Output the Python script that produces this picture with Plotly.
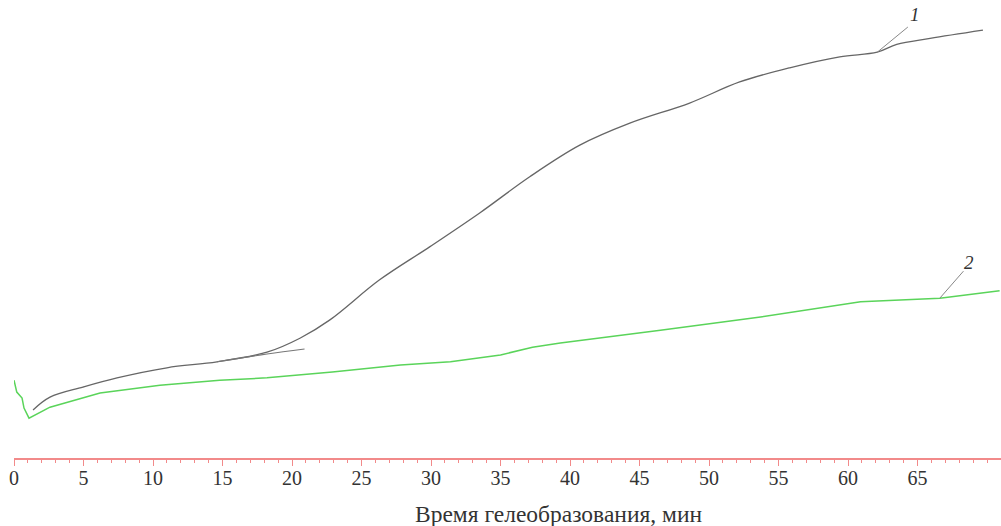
import plotly.graph_objects as go

# Curve 1 (gray)
t1 = [1.37, 2.59, 4.96, 7.41, 11.0, 14.6, 18.2, 20.6, 22.7, 26.3, 29.9, 33.5, 37.1, 40.7, 44.3, 48.6, 52.2, 55.8, 59.4, 62.1, 63.5, 65.9, 69.7]
v1 = [10.5, 13.3, 15.5, 17.5, 19.7, 21.0, 23.1, 26.2, 30.1, 38.9, 46.1, 53.5, 61.4, 68.3, 73.1, 77.5, 82.1, 85.2, 87.6, 88.6, 90.3, 91.6, 93.4]

# secondary branch of curve 1
t1b = [14.6, 18.2, 20.9]
v1b = [21.0, 22.7, 23.8]

# Curve 2 (green)
t2 = [0.0, 0.2, 0.58, 0.72, 1.08, 2.59, 6.19, 10.5, 14.8, 18.2, 22.9, 27.8, 31.4, 35.0, 37.3, 39.3, 46.5, 53.7, 60.9, 66.6, 70.9]
v2 = [17.0, 14.4, 13.1, 10.9, 8.7, 11.1, 14.2, 15.9, 17.0, 17.5, 18.8, 20.3, 21.0, 22.5, 24.2, 25.1, 27.9, 30.8, 34.1, 34.9, 36.5]

# label leaders
lead1_t = [62.1, 64.3]
lead1_v = [88.6, 94.1]
lead2_t = [66.6, 68.3]
lead2_v = [34.9, 40.8]

tick_vals = [0, 5, 10, 15, 20, 25, 30, 35, 40, 45, 50, 55, 60, 65]
tick_text = [str(v) for v in tick_vals]

SERIF = "Liberation Serif, Times New Roman, serif"

fig = go.Figure()
fig.add_trace(go.Scatter(x=t1, y=v1, mode="lines", line=dict(color="#666666", width=1.3, shape="spline", smoothing=1.0), hoverinfo="skip"))
fig.add_trace(go.Scatter(x=t1b, y=v1b, mode="lines", line=dict(color="#777777", width=1.1, shape="spline"), hoverinfo="skip"))
fig.add_trace(go.Scatter(x=t2, y=v2, mode="lines", line=dict(color="#5ad45a", width=1.5), hoverinfo="skip"))
fig.add_trace(go.Scatter(x=lead1_t, y=lead1_v, mode="lines", line=dict(color="#888888", width=1), hoverinfo="skip"))
fig.add_trace(go.Scatter(x=lead2_t, y=lead2_v, mode="lines", line=dict(color="#888888", width=1), hoverinfo="skip"))

fig.add_annotation(x=64.3, y=94.0, text="<i>1</i>", showarrow=False, xanchor="left", yanchor="bottom",
                   font=dict(family=SERIF, size=19, color="#333333"))
fig.add_annotation(x=68.2, y=40.0, text="<i>2</i>", showarrow=False, xanchor="left", yanchor="bottom",
                   font=dict(family=SERIF, size=19, color="#333333"))
fig.add_annotation(x=(558 - 14) / 987, y=-(514 - 458) / 458, xref="paper", yref="paper",
                   xanchor="center", yanchor="middle",
                   text="Время гелеобразования, мин", showarrow=False,
                   font=dict(family=SERIF, size=23.5, color="#333333"))

fig.update_layout(
    width=1001, height=526,
    margin=dict(l=14, r=0, t=0, b=68),
    paper_bgcolor="white", plot_bgcolor="white",
    showlegend=False,
    xaxis=dict(range=[0, 71], showgrid=False, zeroline=False, showline=True, linecolor="#f28a8a", linewidth=2,
               ticks="outside", ticklen=6, tickcolor="#f28a8a", tickwidth=1,
               tickvals=tick_vals, ticktext=tick_text, ticklabelstandoff=-5,
               tickfont=dict(family=SERIF, size=20, color="#333333"),
               minor=dict(ticks="outside", ticklen=3, tickcolor="#f28a8a", dtick=1, tick0=0, showgrid=False)),
    yaxis=dict(range=[0, 100], visible=False),
)

fig.write_html("out.html", config={"displayModeBar": False},
               post_script="document.body.style.margin='0';document.body.style.padding='0';")
